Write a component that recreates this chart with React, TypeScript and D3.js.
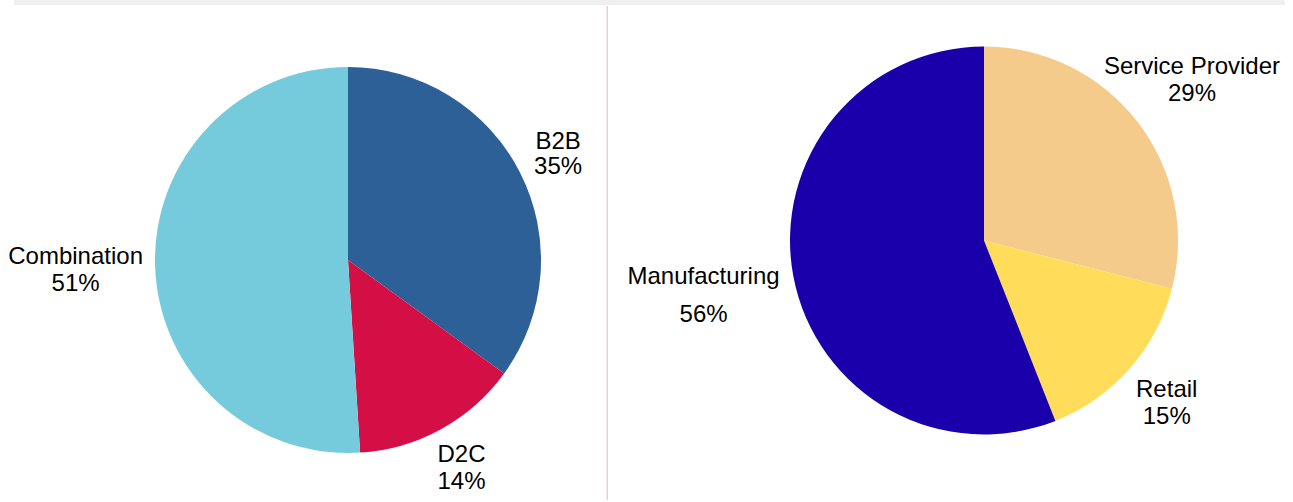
import React, { useEffect, useRef } from "react";
import * as d3 from "d3";

// ---- data ----
const channelCategories = ["B2B", "D2C", "Combination"];
const channelValues = [35, 14, 51];
const channelColors = ["#2e6098", "#d30f45", "#75cbdc"];

const businessCategories = ["Service Provider", "Retail", "Manufacturing"];
const businessValues = [29, 15, 56];
const businessColors = ["#f5cb8c", "#ffdd5a", "#1a00aa"];

// ---- layout ----
const W = 1293;
const H = 502;
const FONT = "'Liberation Sans', Arial, Helvetica, sans-serif";
const FONT_SIZE = 24;
const CAP = FONT_SIZE * 0.716;

const charts = [
  {
    categories: channelCategories,
    values: channelValues,
    colors: channelColors,
    cx: 348,
    cy: 260,
    r: 193,
    bounds: [5, 602],
    gaps: [25, 27, 27],
  },
  {
    categories: businessCategories,
    values: businessValues,
    colors: businessColors,
    cx: 984,
    cy: 240.5,
    r: 194,
    bounds: [612, 1280],
    gaps: [27, 27, 38],
  },
];

export default function App() {
  const ref = useRef<SVGSVGElement | null>(null);

  useEffect(() => {
    const svg = d3.select(ref.current);
    svg.selectAll("*").remove();

    svg
      .append("rect")
      .attr("x", 14)
      .attr("y", 0)
      .attr("width", 1285 - 14)
      .attr("height", 5)
      .attr("fill", "#f0f0f0");

    svg
      .append("rect")
      .attr("x", 606.5)
      .attr("y", 6)
      .attr("width", 1.5)
      .attr("height", 494)
      .attr("fill", "#f5c9d8");

    charts.forEach((c) => {
      const total = d3.sum(c.values);
      const pie = d3
        .pie<number>()
        .sort(null)
        .value((d) => d);
      const arcs = pie(c.values);
      const arc = d3
        .arc<d3.PieArcDatum<number>>()
        .innerRadius(0)
        .outerRadius(c.r);

      const g = svg
        .append("g")
        .attr("transform", `translate(${c.cx},${c.cy})`);

      g.selectAll("path.slice")
        .data(arcs)
        .enter()
        .append("path")
        .attr("class", "slice")
        .attr("d", arc as any)
        .attr("fill", (_d, i) => c.colors[i]);

      const R = c.r + 12;
      arcs.forEach((a, i) => {
        const mid = (a.startAngle + a.endAngle) / 2;
        const ux = Math.sin(mid);
        const uy = -Math.cos(mid);
        const gap = c.gaps[i];
        const pct = `${Math.round((a.value / total) * 100)}%`;

        const text = svg
          .append("text")
          .attr("font-family", FONT)
          .attr("font-size", FONT_SIZE)
          .attr("fill", "#000")
          .attr("text-anchor", "middle");
        const t1 = text.append("tspan").text(c.categories[i]);
        const t2 = text.append("tspan").text(pct);
        const w = Math.max(
          (t1.node() as SVGTSpanElement).getComputedTextLength(),
          (t2.node() as SVGTSpanElement).getComputedTextLength()
        );
        const h = CAP + gap;

        const dist = (t: number) => {
          const bx = t * ux;
          const by = t * uy;
          const dx = Math.max(Math.abs(bx) - w / 2, 0);
          const dy = Math.max(Math.abs(by) - h / 2, 0);
          return Math.hypot(dx, dy);
        };
        let lo = 0;
        let hi = 800;
        for (let k = 0; k < 60; k++) {
          const m = (lo + hi) / 2;
          if (dist(m) >= R) hi = m;
          else lo = m;
        }
        let t = hi;
        if (ux > 1e-6) {
          t = Math.min(t, (c.bounds[1] - c.cx - w / 2) / ux);
        } else if (ux < -1e-6) {
          t = Math.min(t, (c.cx - w / 2 - c.bounds[0]) / -ux);
        }
        const lx = c.cx + t * ux;
        const ly = c.cy + t * uy;
        const b1 = ly - h / 2 + CAP;
        t1.attr("x", lx).attr("y", b1);
        t2.attr("x", lx).attr("y", b1 + gap);
      });
    });
  }, []);

  return (
    <svg
      ref={ref}
      width={W}
      height={H}
      style={{ position: "absolute", left: 0, top: 0, display: "block" }}
    />
  );
}
